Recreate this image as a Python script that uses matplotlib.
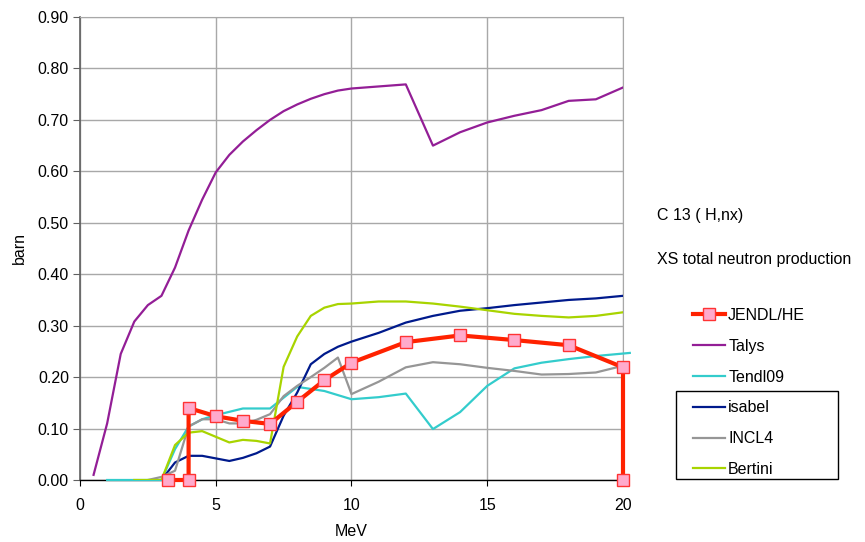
import matplotlib
matplotlib.use("Agg")
import matplotlib.pyplot as plt
from matplotlib.patches import Rectangle

plt.rcParams['font.family'] = ['Liberation Sans', 'DejaVu Sans']

# ---- data ----
jendl_x = [3.25, 4.0, 4.0, 5.0, 6.0, 7.0, 8.0, 9.0, 10.0, 12.0, 14.0, 16.0, 18.0, 20.0, 20.0]
jendl_y = [0.0, 0.0, 0.14, 0.124, 0.115, 0.109, 0.152, 0.194, 0.228, 0.268, 0.281, 0.272, 0.262, 0.219, 0.0]

talys_x = [0.5, 1.0, 1.5, 2.0, 2.5, 3.0, 3.5, 4.0, 4.5, 5.0, 5.5, 6.0, 6.5, 7.0, 7.5,
           8.0, 8.5, 9.0, 9.5, 10.0, 11.0, 12.0, 13.0, 14.0, 15.0, 16.0, 17.0, 18.0, 19.0, 20.0]
talys_y = [0.01, 0.11, 0.245, 0.308, 0.34, 0.358, 0.413, 0.485, 0.545, 0.598, 0.632, 0.658,
           0.68, 0.70, 0.717, 0.73, 0.741, 0.75, 0.757, 0.761, 0.765, 0.769, 0.650, 0.676,
           0.695, 0.708, 0.719, 0.737, 0.740, 0.763]

tendl_x = [1.0, 2.0, 3.0, 3.5, 4.0, 4.5, 5.0, 6.0, 7.0, 8.0, 9.0, 10.0, 11.0, 12.0, 13.0,
           14.0, 15.0, 16.0, 17.0, 18.0, 19.0, 20.25]
tendl_y = [0.0, 0.0, 0.0, 0.06, 0.104, 0.118, 0.126, 0.139, 0.139, 0.181, 0.173, 0.157,
           0.161, 0.168, 0.099, 0.132, 0.183, 0.217, 0.228, 0.235, 0.241, 0.247]

isabel_x = [3.0, 3.5, 4.0, 4.5, 5.0, 5.5, 6.0, 6.5, 7.0, 7.5, 8.0, 8.5, 9.0, 9.5, 10.0,
            11.0, 12.0, 13.0, 14.0, 15.0, 16.0, 17.0, 18.0, 19.0, 20.0]
isabel_y = [0.0, 0.034, 0.047, 0.047, 0.042, 0.037, 0.043, 0.052, 0.065, 0.125, 0.17,
            0.225, 0.245, 0.259, 0.269, 0.286, 0.306, 0.319, 0.329, 0.334, 0.340, 0.345,
            0.350, 0.353, 0.358]

incl_x = [2.5, 3.0, 3.5, 4.0, 4.5, 5.0, 5.5, 6.0, 6.5, 7.0, 7.5, 8.0, 8.5, 9.0, 9.5,
          10.0, 11.0, 12.0, 13.0, 14.0, 15.0, 16.0, 17.0, 18.0, 19.0, 20.0]
incl_y = [0.0, 0.006, 0.018, 0.104, 0.118, 0.118, 0.110, 0.110, 0.117, 0.128, 0.163,
          0.183, 0.200, 0.218, 0.238, 0.167, 0.191, 0.219, 0.229, 0.225, 0.218, 0.212,
          0.205, 0.206, 0.209, 0.222]

bert_x = [2.0, 3.0, 3.5, 4.0, 4.5, 5.0, 5.5, 6.0, 6.5, 7.0, 7.5, 8.0, 8.5, 9.0, 9.5,
          10.0, 11.0, 12.0, 13.0, 14.0, 15.0, 16.0, 17.0, 18.0, 19.0, 20.0]
bert_y = [0.0, 0.0, 0.068, 0.092, 0.095, 0.084, 0.073, 0.078, 0.076, 0.071, 0.22, 0.279,
          0.319, 0.335, 0.342, 0.343, 0.347, 0.347, 0.343, 0.337, 0.330, 0.323, 0.319,
          0.316, 0.319, 0.326]

y_ticks = [0.0, 0.1, 0.2, 0.3, 0.4, 0.5, 0.6, 0.7, 0.8, 0.9]
x_ticks = [0, 5, 10, 15, 20]

FS = 11.5
W, H = 865, 542

# ---- figure ----
fig = plt.figure(figsize=(8.65, 5.42), dpi=100)
ax = fig.add_axes([80/W, 1 - 480/H, (623-80)/W, (480-17)/H])

ax.set_xlim(0, 20)
ax.set_ylim(0, 0.9)
ax.set_xticks(x_ticks)
ax.set_yticks(y_ticks)
ax.set_yticklabels([f"{v:.2f}" for v in y_ticks])
ax.grid(True, color='#a8a8a8', linewidth=1.0)
ax.set_axisbelow(True)

for s in ['top', 'right']:
    ax.spines[s].set_color('#a8a8a8')
ax.spines['left'].set_color('#606060')
ax.spines['left'].set_linewidth(1.2)
ax.spines['bottom'].set_color('black')
ax.spines['bottom'].set_linewidth(1.0)
ax.tick_params(axis='y', direction='out', length=5, color='#606060', labelsize=FS, pad=3)
ax.tick_params(axis='x', direction='out', length=4, color='black', labelsize=FS, pad=9)

lw = 1.6
l2, = ax.plot(talys_x, talys_y, color='#931e96', lw=lw, label='Talys', zorder=4)
l3, = ax.plot(tendl_x, tendl_y, color='#33cccc', lw=lw, label='Tendl09', zorder=5, clip_on=False)
l4, = ax.plot(isabel_x, isabel_y, color='#001a8c', lw=lw, label='isabel', zorder=6)
l5, = ax.plot(incl_x, incl_y, color='#969696', lw=lw, label='INCL4', zorder=7)
l6, = ax.plot(bert_x, bert_y, color='#a8d400', lw=lw, label='Bertini', zorder=8)
l1, = ax.plot(jendl_x, jendl_y, color='#ff2200', lw=3, marker='s', markersize=8,
              markerfacecolor='#ffaacc', markeredgecolor='#ff3333', markeredgewidth=1,
              label='JENDL/HE', zorder=9, clip_on=False)

ax.set_xlabel('MeV', fontsize=FS, labelpad=8)
ax.set_ylabel('barn', fontsize=FS, labelpad=8)

fig.text(657/W, 1 - 215/H, 'C 13 ( H,nx)', fontsize=FS, va='center', ha='left')
fig.text(657/W, 1 - 259/H, 'XS total neutron production', fontsize=FS, va='center', ha='left')

leg = fig.legend(handles=[l1, l2, l3, l4, l5, l6], loc='upper left',
                 bbox_to_anchor=(693/W, 1 - 308/H), frameon=False, fontsize=FS,
                 handlelength=2.0, handletextpad=0.2, labelspacing=0.99,
                 borderaxespad=0, borderpad=0)
fig.add_artist(Rectangle((676/W, 1 - 479/H), (838-676)/W, (479-391)/H,
                         transform=fig.transFigure, fill=False, edgecolor='black', lw=1.0))

fig.savefig('out.png', dpi=100)
